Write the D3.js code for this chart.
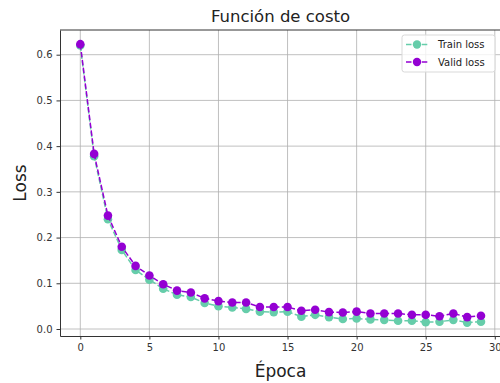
<!DOCTYPE html>
<html>
<head>
<meta charset="utf-8">
<script src="https://cdn.jsdelivr.net/npm/d3@7"></script>
<style>
  body { margin: 0; background: #fff; }
  svg { display: block; font-family: "DejaVu Sans", sans-serif; }
</style>
</head>
<body>
<svg id="chart" width="500" height="383"></svg>
<script>
// epochs 0..29
const epochs = d3.range(30);
const trainLoss = [0.620, 0.378, 0.240, 0.173, 0.129, 0.108, 0.088, 0.075, 0.070, 0.057,
                   0.050, 0.047, 0.044, 0.038, 0.037, 0.038, 0.027, 0.031, 0.026, 0.022,
                   0.023, 0.021, 0.020, 0.018, 0.018, 0.015, 0.016, 0.020, 0.014, 0.016];
const validLoss = [0.623, 0.383, 0.248, 0.180, 0.138, 0.117, 0.098, 0.084, 0.080, 0.067,
                   0.061, 0.058, 0.058, 0.048, 0.048, 0.048, 0.040, 0.042, 0.037, 0.036,
                   0.038, 0.034, 0.034, 0.034, 0.031, 0.031, 0.028, 0.034, 0.026, 0.029];
const xTicks = [0, 5, 10, 15, 20, 25, 30];
const yTicks = [0.0, 0.1, 0.2, 0.3, 0.4, 0.5, 0.6];

const series = [
    { name: "Train loss", values: trainLoss, color: "#66cdaa" },
    { name: "Valid loss", values: validLoss, color: "#9400d3" }
];

const svg = d3.select("#chart");
const plot = { left: 60, right: 501, top: 30, bottom: 336 };

const x = d3.scaleLinear().domain([-1.47, 30.45]).range([plot.left, plot.right]);
const y = d3.scaleLinear().domain([-0.0153, 0.654]).range([plot.bottom, plot.top]);

// grid
const grid = svg.append("g").attr("stroke", "#b0b0b0").attr("stroke-width", 0.8);
grid.selectAll(".gx").data(xTicks).join("line")
    .attr("x1", d => x(d)).attr("x2", d => x(d))
    .attr("y1", plot.top).attr("y2", plot.bottom);
grid.selectAll(".gy").data(yTicks).join("line")
    .attr("x1", plot.left).attr("x2", plot.right)
    .attr("y1", d => y(d)).attr("y2", d => y(d));

// axes
const xAxis = svg.append("g")
    .attr("transform", `translate(0,${plot.bottom})`)
    .call(d3.axisBottom(x).tickValues(xTicks).tickFormat(d3.format("d")).tickSizeInner(3.5).tickSizeOuter(0).tickPadding(4));
const yAxis = svg.append("g")
    .attr("transform", `translate(${plot.left},0)`)
    .call(d3.axisLeft(y).tickValues(yTicks).tickFormat(d3.format(".1f")).tickSizeInner(3.5).tickSizeOuter(0).tickPadding(4));
[xAxis, yAxis].forEach(a => {
    a.selectAll("text").attr("font-size", 10).attr("fill", "#333").attr("font-family", "DejaVu Sans");
    a.selectAll("line").attr("stroke", "#333");
    a.select(".domain").attr("stroke", "#333");
});

// top spine
svg.append("line").attr("x1", plot.left).attr("x2", plot.right)
    .attr("y1", plot.top).attr("y2", plot.top).attr("stroke", "#333");

// lines and markers
const line = d3.line().x((d, i) => x(epochs[i])).y(d => y(d));
series.forEach(s => {
    svg.append("path")
        .datum(s.values)
        .attr("d", line)
        .attr("fill", "none")
        .attr("stroke", s.color)
        .attr("stroke-width", 1.5)
        .attr("stroke-dasharray", "5.5,2.4");
    svg.append("g").selectAll("circle")
        .data(s.values)
        .join("circle")
        .attr("cx", (d, i) => x(epochs[i]))
        .attr("cy", d => y(d))
        .attr("r", 4.3)
        .attr("fill", s.color);
});

// legend
const legend = svg.append("g").attr("transform", "translate(402,35)");
legend.append("rect")
    .attr("width", 93).attr("height", 37).attr("rx", 2.5)
    .attr("fill", "#fff").attr("fill-opacity", 0.8)
    .attr("stroke", "#d9d9d9");
series.forEach((s, i) => {
    const row = legend.append("g").attr("transform", `translate(0,${9.5 + i * 17.5})`);
    row.append("line").attr("x1", 4).attr("x2", 26).attr("y1", 0).attr("y2", 0)
        .attr("stroke", s.color).attr("stroke-width", 1.5).attr("stroke-dasharray", "5.5,2.4");
    row.append("circle").attr("cx", 15).attr("cy", 0).attr("r", 4.2).attr("fill", s.color);
    row.append("text").attr("x", 36).attr("y", 3.5)
        .attr("font-size", 10).attr("fill", "#222").text(s.name);
});

// titles
svg.append("text").attr("x", (plot.left + plot.right) / 2).attr("y", 22)
    .attr("text-anchor", "middle").attr("font-size", 16.5).attr("fill", "#222")
    .text("Función de costo");
svg.append("text").attr("x", (plot.left + plot.right) / 2).attr("y", 377)
    .attr("text-anchor", "middle").attr("font-size", 17).attr("fill", "#222")
    .text("Época");
svg.append("text").attr("transform", `translate(26,${(plot.top + plot.bottom) / 2}) rotate(-90)`)
    .attr("text-anchor", "middle").attr("font-size", 17).attr("fill", "#222")
    .text("Loss");
</script>
</body>
</html>
